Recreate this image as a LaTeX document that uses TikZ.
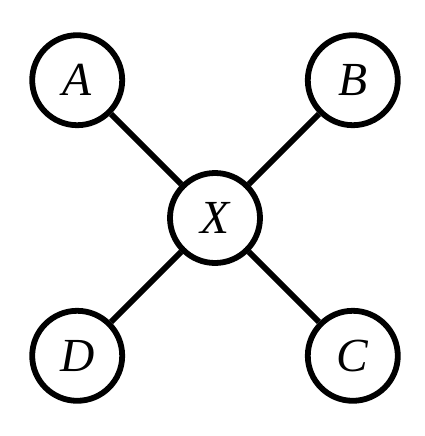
\documentclass[tikz,border=0pt]{standalone}
\usepackage{fontspec}
\newfontfamily\labelfont{Liberation Serif Italic}
\begin{document}
\begin{tikzpicture}[line width=3.3pt,
    vertex/.style={circle,draw,minimum size=1.8cm,inner sep=0pt,font=\labelfont\fontsize{27}{32}\selectfont}]
    \useasboundingbox (0,0) rectangle (8.48,-8.72);
    \matrix[anchor=center, column sep=0.84cm, row sep=0.84cm] at (4.30,-4.36)
    {
     \node[vertex](A) {A};  &                     & \node[vertex](B) {B}; \\
                          & \node[vertex](X) {X}; &                     \\
     \node[vertex](D) {D};  &                     & \node[vertex](C) {C}; \\
    };
    \draw (A) -- (X);
    \draw (B) -- (X);
    \draw (D) -- (X);
    \draw (C) -- (X);
\end{tikzpicture}
\end{document}
